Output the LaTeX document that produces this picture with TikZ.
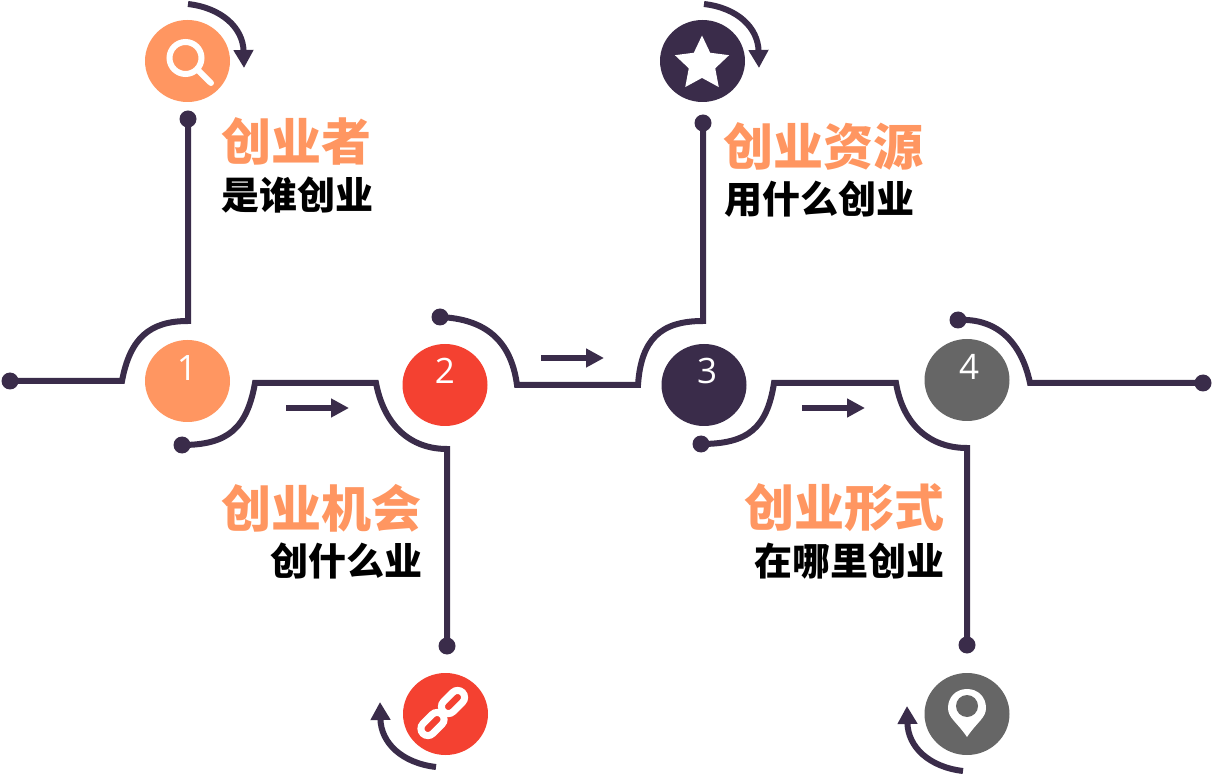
\documentclass[tikz,border=0pt]{standalone}
\usepackage{fontspec}
\usepackage{xcolor}
\usetikzlibrary{arrows.meta,shapes.geometric}
\setmainfont{Open Sans}
\newfontfamily\cjk{Noto Sans CJK SC Black}
\definecolor{stepdark}{HTML}{3A2C4A}
\definecolor{steporange}{HTML}{FF9661}
\definecolor{stepred}{HTML}{F44131}
\definecolor{stepgray}{HTML}{666666}

\begin{document}
\begin{tikzpicture}[
    x=1pt, y=-1pt,
    badge/.style={ellipse, fill=#1, minimum width=85pt, minimum height=82pt, inner sep=0pt},
    stepno/.style={inner sep=0pt, text=white, font=\fontsize{35}{35}\selectfont},
    tipdot/.style={circle, fill=stepdark, minimum size=17pt, inner sep=0pt},
    wire/.style={draw=stepdark, line width=6pt, miter limit=10},
    flow/.style={draw=stepdark, line width=6pt, -{Triangle[length=18pt,width=18pt]}},
    turn/.style={draw=stepdark, line width=6pt, -{Triangle[length=18pt,width=19pt]}},
    headline/.style={anchor=west, inner sep=0pt, text=steporange,
                     font=\cjk\fontsize{50}{50}\selectfont},
    subline/.style={anchor=west, inner sep=0pt, text=black,
                    font=\cjk\fontsize{38}{38}\selectfont},
    glyph/.style={draw=white, line width=6pt},
    chain/.style={draw=white, line width=7pt, rounded corners=7pt, rotate=45,
                  minimum width=27pt, minimum height=14pt, inner sep=0pt},
]
\useasboundingbox (0,0) rectangle (1213,775);

% Steps
\node[badge=steporange] (one) at (187.5,381) {};
\node[badge=stepred] (two) at (445,385) {};
\node[badge=stepdark] (three) at (704,385) {};
\node[badge=stepgray] (four) at (967,380) {};
\node[stepno] (oneno) at (187,368) {1};
\node[stepno] (twono) at (445,371) {2};
\node[stepno] (threeno) at (707,371) {3};
\node[stepno] (fourno) at (969,367) {4};

% Icon badges
\node[badge=steporange] (searchicon) at (187.5,61) {};
\node[badge=stepdark] (staricon) at (702.5,61) {};
\node[badge=stepred] (linkicon) at (445.5,714) {};
\node[badge=stepgray] (pinicon) at (967,714) {};

% End dots
\node[tipdot] (startdot) at (10,381) {};
\node[tipdot] (searchdot) at (188,119) {};
\node[tipdot] (lowdotone) at (182,445) {};
\node[tipdot] (linkdot) at (447,646) {};
\node[tipdot] (highdottwo) at (440,317) {};
\node[tipdot] (stardot) at (703,123) {};
\node[tipdot] (lowdotthree) at (701,444) {};
\node[tipdot] (pindot) at (967,645) {};
\node[tipdot] (highdotfour) at (958,320) {};
\node[tipdot] (enddot) at (1203,383) {};

% Wires
\draw[wire] (startdot.center) -- (122,381) .. controls (130,338) and (150,321) .. (188,321)
    -- (searchdot.center);
\draw[wire] (lowdotone.center) .. controls (228,445) and (247,428) .. (255,383) -- (376,383)
    .. controls (384,425) and (410,449) .. (447,449) -- (linkdot.center);
\draw[wire] (highdottwo.center) .. controls (485,319) and (511,340) .. (517,385) -- (638,385)
    .. controls (641,340) and (660,321) .. (703,321) -- (stardot.center);
\draw[wire] (lowdotthree.center) .. controls (748,444) and (767,428) .. (774,383) -- (896,383)
    .. controls (903,425) and (930,448) .. (967,448) -- (pindot.center);
\draw[wire] (highdotfour.center) .. controls (995,318) and (1021,340) .. (1030,383)
    -- (enddot.center);

% Straight arrows
\coordinate (flowastart) at (286,408);
\coordinate (flowaend) at (349,408);
\coordinate (flowbstart) at (541,358);
\coordinate (flowbend) at (604,358);
\coordinate (flowcstart) at (802,408);
\coordinate (flowcend) at (865,408);
\draw[flow] (flowastart) -- (flowaend);
\draw[flow] (flowbstart) -- (flowbend);
\draw[flow] (flowcstart) -- (flowcend);

% Curved arrows
\coordinate (turnastart) at (188,4);
\coordinate (turnaend) at (244,68);
\coordinate (turnbstart) at (704,4);
\coordinate (turnbend) at (759,68);
\coordinate (turncstart) at (436,767);
\coordinate (turncend) at (380,702);
\coordinate (turndstart) at (963,771);
\coordinate (turndend) at (907,706);
\draw[turn] (turnastart) .. controls (222,8) and (243,28) .. (turnaend);
\draw[turn] (turnbstart) .. controls (738,8) and (758,28) .. (turnbend);
\draw[turn] (turncstart) .. controls (402,763) and (381,743) .. (turncend);
\draw[turn] (turndstart) .. controls (929,767) and (908,747) .. (turndend);

% Search
\node[circle, glyph, minimum size=32pt, inner sep=0pt] (lens) at (185.5,58) {};
\draw[glyph, line cap=round] (lens) -- (211,83);

% Star
\node[star, star points=5, star point ratio=2.05, fill=white, minimum size=57pt,
      inner sep=0pt] (starglyph) at (702,64) {};

% Link
\node[chain] (linklow) at (432.5,724) {};
\node[chain] (linkhigh) at (453,702) {};

% Pin
\fill[white] (967,737) .. controls (957,722) and (948,718) .. (948,708)
    .. controls (948,697) and (956,689) .. (967,689)
    .. controls (978,689) and (986,697) .. (986,708)
    .. controls (986,718) and (977,722) .. (967,737) -- cycle;
\node[circle, fill=stepgray, minimum size=22pt, inner sep=0pt] (pinhole) at (967,706) {};

% Labels
\node[headline] (whohead) at (221,141) {创业者};
\node[subline] (whosub) at (221,195) {是谁创业};
\node[headline] (chancehead) at (221,508) {创业机会};
\node[subline] (chancesub) at (270,561) {创什么业};
\node[headline] (reshead) at (723,146) {创业资源};
\node[subline] (ressub) at (724,199) {用什么创业};
\node[headline] (formhead) at (744,508) {创业形式};
\node[subline] (formsub) at (754,561) {在哪里创业};
\end{tikzpicture}
\end{document}
